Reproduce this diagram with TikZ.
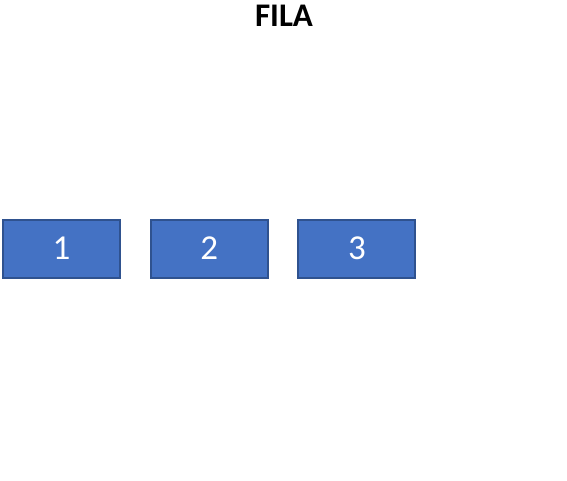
\documentclass[tikz,border=0pt]{standalone}
\usepackage{fontspec}
\setmainfont{Carlito}
\usetikzlibrary{positioning}
\definecolor{boxfill}{HTML}{4472C4}
\definecolor{boxline}{HTML}{2F528F}
\tikzset{
  elem/.style = {rectangle, draw = boxline, fill = boxfill, line width = 2pt,
                 minimum width = 117pt, minimum height = 58pt, inner sep = 0pt,
                 text = white, font = \fontsize{35}{38}\selectfont},
}
\begin{document}
\begin{tikzpicture}[x = 1pt, y = -1pt, node distance = 147.7pt]
    \useasboundingbox (0,0) rectangle (567,481);

    \node[font = \bfseries\fontsize{33}{36}\selectfont] (titulo) at (284,16) {FILA};

    \node[elem] (1) at (61.5,248.5) {1};
    \node[elem] (2) [right of = 1] {2};
    \node[elem] (3) [right of = 2] {3};
  \end{tikzpicture}
\end{document}
